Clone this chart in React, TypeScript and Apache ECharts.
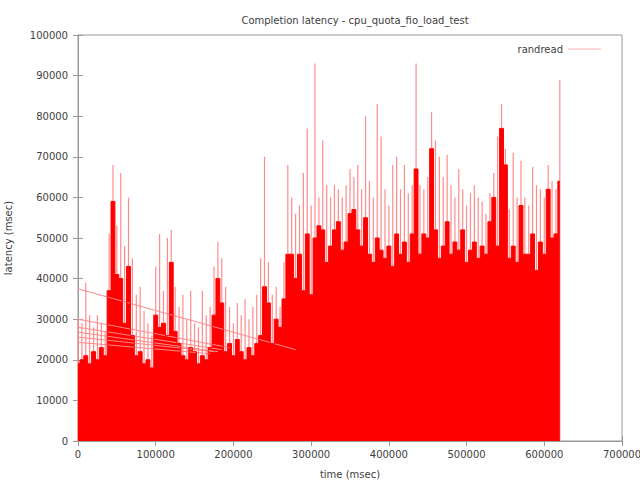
import React, { useEffect, useRef } from "react";
import * as echarts from "echarts";

// sample spacing of the reading (msec)
const binStepMs = 5000;

// solid (dense) latency level per 5000 ms bin
const coreLatency = [
  19000, 20000, 21000, 19000, 22000, 20000, 23000, 21000, 37000, 59000,
  41000, 40000, 29000, 43000, 26000, 21000, 22000, 19000, 20000, 18000,
  31000, 28000, 29000, 26000, 44000, 27000, 24000, 21000, 20000, 23000,
  22000, 19000, 21000, 20000, 23000, 31000, 40000, 34000, 22000, 24000,
  21000, 25000, 22000, 20000, 23000, 21000, 24000, 26000, 38000, 34000,
  24000, 30000, 28000, 35000, 46000, 46000, 40000, 46000, 37000, 51000,
  36000, 50000, 53000, 52000, 44000, 48000, 52000, 54000, 47000, 49000,
  56000, 57000, 52000, 48000, 55000, 46000, 44000, 50000, 47000, 45000,
  48000, 43000, 51000, 46000, 49000, 44000, 51000, 67000, 46000, 51000,
  50000, 72000, 52000, 45000, 48000, 54000, 46000, 49000, 47000, 52000,
  44000, 47000, 49000, 45000, 48000, 46000, 54000, 60000, 48000, 77000,
  68000, 45000, 48000, 44000, 58000, 46000, 46000, 51000, 42000, 49000,
  46000, 62000, 50000, 51000, 64000,
];

// highest spike per 5000 ms bin
const peakLatency = [
  30000, 29000, 39000, 31000, 28000, 31000, 29000, 27000, 51000, 68000,
  53000, 66000, 48000, 60000, 45000, 36000, 38000, 32000, 29000, 26000,
  43000, 51000, 37000, 50000, 52000, 38000, 33000, 36000, 30000, 37000,
  29000, 28000, 37000, 31000, 33000, 43000, 49000, 45000, 38000, 33000,
  29000, 34000, 31000, 35000, 30000, 33000, 36000, 45000, 70000, 44000,
  36000, 38000, 33000, 44000, 68000, 60000, 56000, 58000, 66000, 77000,
  58000, 93000, 60000, 74000, 63000, 60000, 63000, 62000, 60000, 63000,
  67000, 65000, 68000, 62000, 80000, 64000, 60000, 83000, 75000, 62000,
  58000, 68000, 70000, 62000, 68000, 61000, 63000, 93000, 63000, 62000,
  65000, 81000, 74000, 70000, 65000, 70500, 63000, 60000, 67000, 62000,
  58000, 61000, 63000, 60000, 59000, 56000, 61000, 66000, 75000, 83000,
  72000, 57000, 71000, 60000, 69000, 60000, 58000, 67500, 63000, 62000,
  60000, 68000, 64000, 62000, 89000,
];

// return lines drawn back to time 0 (start latency, end time, end latency)
const wrapStartLatency = [37500, 30000, 28000, 26800, 25600, 24300];
const wrapEndTime = [280000, 195000, 185000, 180000, 175000, 170000];
const wrapEndLatency = [22500, 23000, 22500, 22000, 22000, 21500];

const xTicks = { min: 0, max: 700000, interval: 100000 };
const yTicks = { min: 0, max: 100000, interval: 10000 };

const font = "DejaVu Sans";
const textColor = "#404040";
const frameColor = "#9a9a9a";

export default function App() {
  const ref = useRef<HTMLDivElement>(null);

  useEffect(() => {
    if (!ref.current) return;
    const chart = echarts.init(ref.current, undefined, { renderer: "svg" });

    const coreData = coreLatency.map((v, i) => [i * binStepMs, v]);
    const peakData = peakLatency.map((v, i) => [i * binStepMs, v]);
    const wrapData: any[] = [];
    wrapStartLatency.forEach((v, i) => {
      wrapData.push([0, v]);
      wrapData.push([wrapEndTime[i], wrapEndLatency[i]]);
      wrapData.push(null);
    });

    const axisCommon = {
      axisLine: { show: true, lineStyle: { color: frameColor, width: 1 } },
      axisTick: { show: true, inside: true, length: 5, lineStyle: { color: frameColor } },
      splitLine: { show: false },
    };
    const plain = (v: number) => String(v);

    chart.setOption({
      animation: false,
      backgroundColor: "#ffffff",
      title: {
        text: "Completion latency - cpu_quota_fio_load_test",
        left: 350,
        top: 10,
        textAlign: "center",
        textStyle: { fontFamily: font, fontSize: 10, fontWeight: "normal", color: textColor },
      },
      legend: {
        data: ["randread"],
        right: 34,
        top: 39,
        align: "right",
        icon: "rect",
        itemWidth: 33,
        itemHeight: 1,
        itemStyle: { color: "#ffb0b0" },
        textStyle: { fontFamily: font, fontSize: 10, color: textColor },
      },
      grid: {
        left: 78,
        right: 18,
        top: 35,
        bottom: 39,
        containLabel: false,
        outerBoundsMode: "none",
        show: true,
        borderColor: frameColor,
        borderWidth: 1,
        backgroundColor: "transparent",
      },
      xAxis: [
        {
          type: "value",
          position: "bottom",
          ...xTicks,
          name: "time (msec)",
          nameLocation: "middle",
          nameGap: 28,
          nameTextStyle: { fontFamily: font, fontSize: 10, color: textColor },
          axisLabel: { fontFamily: font, fontSize: 10, color: textColor, margin: 8, formatter: plain },
          ...axisCommon,
        },
        {
          type: "value",
          position: "top",
          ...xTicks,
          axisLabel: { show: false },
          ...axisCommon,
        },
      ],
      yAxis: [
        {
          type: "value",
          position: "left",
          ...yTicks,
          name: "latency (msec)",
          nameLocation: "middle",
          nameGap: 65,
          nameTextStyle: { fontFamily: font, fontSize: 10, color: textColor },
          axisLabel: { fontFamily: font, fontSize: 10, color: textColor, margin: 10, formatter: plain },
          ...axisCommon,
        },
        {
          type: "value",
          position: "right",
          ...yTicks,
          axisLabel: { show: false },
          ...axisCommon,
        },
      ],
      series: [
        {
          name: "randread",
          type: "line",
          xAxisIndex: 0,
          yAxisIndex: 0,
          data: wrapData,
          connectNulls: false,
          showSymbol: false,
          symbol: "none",
          lineStyle: { color: "#ff8a8a", width: 1 },
          itemStyle: { color: "#ffb0b0" },
          silent: true,
        },
        {
          name: "randread",
          type: "bar",
          xAxisIndex: 1,
          yAxisIndex: 0,
          data: peakData,
          barWidth: 1.2,
          itemStyle: { color: "#ff8c8c" },
          silent: true,
        },
        {
          name: "randread",
          type: "line",
          xAxisIndex: 0,
          yAxisIndex: 0,
          data: coreData,
          step: "middle",
          symbol: "none",
          showSymbol: false,
          lineStyle: { color: "#ff0000", width: 1 },
          areaStyle: { color: "#ff0000", opacity: 1 },
          itemStyle: { color: "#ff0000" },
          silent: true,
        },
      ],
    });

    return () => chart.dispose();
  }, []);

  return (
    <div
      ref={ref}
      style={{ position: "fixed", left: 0, top: 0, width: 640, height: 480 }}
    />
  );
}
